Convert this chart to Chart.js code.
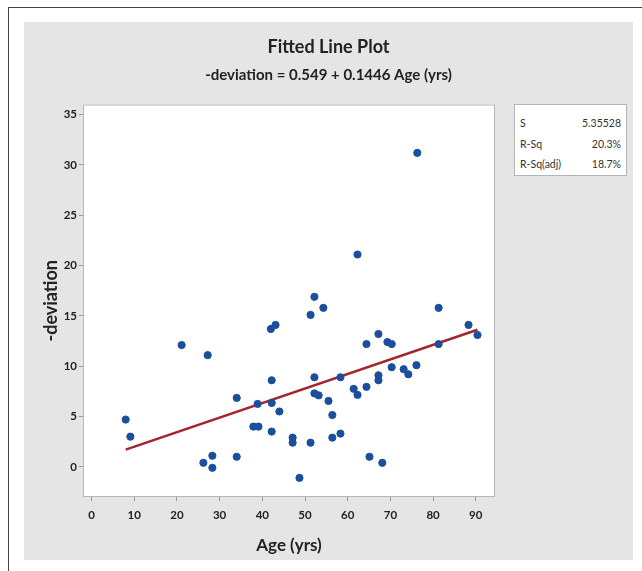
<!DOCTYPE html>
<html lang="en">
<head>
  <meta charset="UTF-8" />
  <title>Fitted Line Plot</title>
  <script src="https://cdn.jsdelivr.net/npm/chart.js"></script>
  <style>
    body { margin: 0; background: #fff; width: 642px; height: 571px; position: relative; overflow: hidden; }
    #frame { position: absolute; left: 8px; top: 7px; right: -2px; bottom: -2px; border-left: 1.5px solid #444; border-top: 1.5px solid #444; }
    #panel { position: absolute; left: 24px; top: 22px; width: 609px; height: 538px; background: #e5e5e5; }
    #stats { position: absolute; left: 514px; top: 104px; width: 113px; height: 72px; background: #fff; border: 1px solid #b4b4b4;
             font: 10.5px Lato, sans-serif; color: #333; box-sizing: border-box; padding: 12px 5px 0 5px; }
    #stats div { display: flex; justify-content: space-between; height: 20.5px; }
  </style>
</head>
<body>
  <div id="frame"></div>
  <div id="panel"><canvas id="fit" width="609" height="538"></canvas></div>
  <div id="stats"></div>

  <script>
    // Data
    const ages = [8.0, 9.1, 21.1, 26.2, 27.2, 28.3, 28.3, 34.0, 34.0, 37.9, 39.1, 38.9, 42.2, 42.2, 42.2, 42.0, 43.1, 44.0,
                  47.1, 47.1, 48.7, 51.3, 51.3, 52.2, 52.2, 52.2, 53.2, 54.3, 55.5, 56.4, 56.4, 58.3, 58.3, 61.4, 62.3, 62.3,
                  64.4, 64.4, 65.1, 67.2, 67.2, 67.2, 68.1, 69.3, 70.3, 70.3, 73.1, 74.2, 76.1, 76.3, 81.3, 81.3, 88.3, 90.4];
    const deviations = [4.7, 3.0, 12.1, 0.4, 11.1, 1.1, -0.1, 6.85, 1.0, 4.0, 4.0, 6.25, 6.35, 3.5, 8.6, 13.7, 14.1, 5.5,
                        2.9, 2.4, -1.1, 2.4, 15.1, 16.9, 8.9, 7.3, 7.1, 15.8, 6.55, 5.15, 2.9, 3.3, 8.9, 7.75, 7.15, 21.1,
                        7.95, 12.2, 1.0, 13.2, 9.1, 8.6, 0.4, 12.4, 12.2, 9.9, 9.7, 9.2, 10.1, 31.2, 12.2, 15.8, 14.1, 13.1];
    const intercept = 0.549;
    const slope = 0.1446;
    const xTicks = [0, 10, 20, 30, 40, 50, 60, 70, 80, 90];
    const yTicks = [0, 5, 10, 15, 20, 25, 30, 35];
    const statLabels = ["S", "R-Sq", "R-Sq(adj)"];
    const statValues = ["5.35528", "20.3%", "18.7%"];

    // stats box
    const stats = document.getElementById("stats");
    statLabels.forEach((l, i) => {
      const row = document.createElement("div");
      row.innerHTML = `<span>${l}</span><span>${statValues[i]}</span>`;
      stats.appendChild(row);
    });

    const points = ages.map((a, i) => ({ x: a, y: deviations[i] }));
    const xMin = Math.min(...ages), xMax = Math.max(...ages);
    const fitLine = [xMin, xMax].map(x => ({ x: x, y: intercept + slope * x }));

    const tickFont = { family: "Lato", size: 11.5, weight: "bold" };

    const plotBg = {
      id: "plotBg",
      beforeDraw(chart) {
        const { ctx, chartArea: a } = chart;
        ctx.save();
        ctx.fillStyle = "#fff";
        ctx.fillRect(a.left, a.top, a.right - a.left, a.bottom - a.top);
        ctx.restore();
      },
      afterDraw(chart) {
        const { ctx, chartArea: a } = chart;
        ctx.save();
        ctx.strokeStyle = "#b8b8b8";
        ctx.lineWidth = 1;
        ctx.strokeRect(a.left + 0.5, a.top + 0.5, a.right - a.left - 1, a.bottom - a.top - 1);
        ctx.restore();
      }
    };

    new Chart(document.getElementById("fit"), {
      type: "scatter",
      data: {
        datasets: [
          {
            label: "Regression",
            type: "line",
            data: fitLine,
            borderColor: "#a3262b",
            borderWidth: 2.5,
            pointRadius: 0,
            fill: false,
            order: 2
          },
          {
            label: "Data",
            data: points,
            backgroundColor: "#1b4f9e",
            borderColor: "#1b4f9e",
            pointRadius: 3.6,
            order: 1
          }
        ]
      },
      options: {
        responsive: false,
        animation: false,
        layout: { padding: 0 },
        plugins: {
          legend: { display: false },
          tooltip: { enabled: false },
          title: {
            display: true,
            text: "Fitted Line Plot",
            color: "#222",
            font: { family: "Lato", size: 18, weight: "bold" },
            padding: { top: 14, bottom: 9 }
          },
          subtitle: {
            display: true,
            text: "-deviation = 0.549 + 0.1446 Age (yrs)",
            color: "#222",
            font: { family: "Lato", size: 15, weight: "bold" },
            padding: { top: 0, bottom: 20 }
          }
        },
        scales: {
          x: {
            type: "linear",
            min: -2,
            max: 94.5,
            afterFit: s => { s.height = 63; },
            afterBuildTicks: s => { s.ticks = xTicks.map(v => ({ value: v })); },
            grid: { display: true, drawOnChartArea: false, tickLength: 4, color: "#999" },
            border: { display: false },
            ticks: { font: tickFont, color: "#222", padding: 7, maxRotation: 0 },
            title: { display: true, text: "Age (yrs)", color: "#222", font: { family: "Lato", size: 17, weight: "bold" }, padding: { top: 0, bottom: 4 } }
          },
          y: {
            type: "linear",
            min: -3,
            max: 36,
            afterFit: s => { s.width = 59; },
            afterBuildTicks: s => { s.ticks = yTicks.map(v => ({ value: v })); },
            grid: { display: true, drawOnChartArea: false, tickLength: 4, color: "#999" },
            border: { display: false },
            ticks: { font: tickFont, color: "#222", padding: 2 },
            title: { display: true, text: "-deviation", color: "#222", font: { family: "Lato", size: 18, weight: "bold" }, padding: { top: 16, bottom: 0 } }
          },
          side: {
            type: "linear",
            position: "right",
            display: true,
            afterFit: s => { s.width = 138; },
            grid: { display: false },
            border: { display: false },
            ticks: { display: false }
          }
        }
      },
      plugins: [plotBg]
    });
  </script>
</body>
</html>
